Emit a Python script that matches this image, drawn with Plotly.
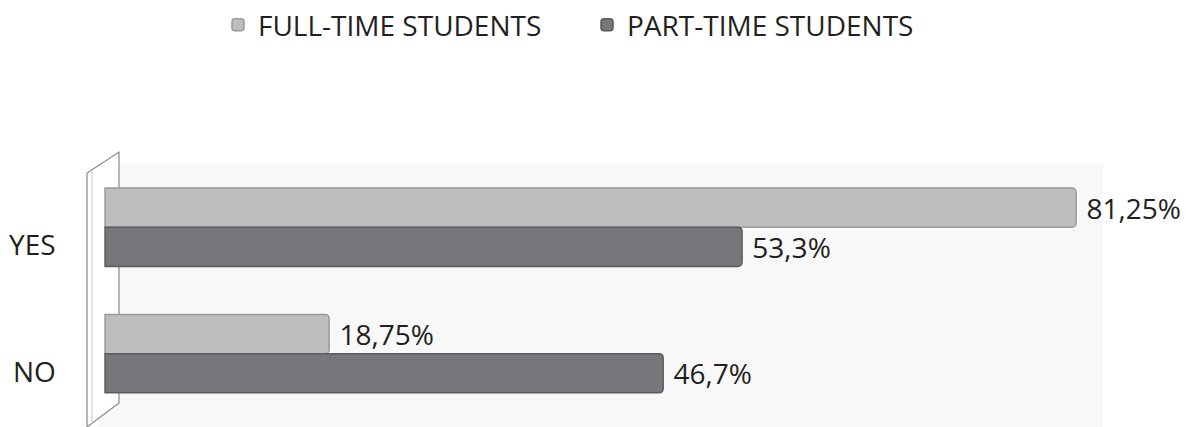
import plotly.graph_objects as go

# Survey answers and shares (%) per student group
answers = ["YES", "NO"]
full_time = [81.25, 18.75]
part_time = [53.3, 46.7]
series_names = ["FULL-TIME STUDENTS", "PART-TIME STUDENTS"]


def pct_label(v):
    s = f"{v:g}".replace(".", ",")
    return "\u00a0" + s + "%"


W, H = 1198, 427
L, R, T, B = 98, 95, 164, 0
PW, PH = W - L - R, H - T - B


def px_x(px):
    return (px - L) / PW


def px_y(py):
    return (H - B - py) / PH


FONT = "Open Sans"
SIZE = 28
TXT = "#231f20"

fig = go.Figure()
for name, vals, color, edge in [
    (series_names[0], full_time, "#bebebe", "#9a9a9a"),
    (series_names[1], part_time, "#77777b", "#5c5c60"),
]:
    fig.add_trace(go.Bar(
        name=name,
        y=answers,
        x=vals,
        orientation="h",
        marker=dict(color=color, line=dict(color=edge, width=1.5)),
        text=[pct_label(v) for v in vals],
        textposition="outside",
        textfont=dict(family=FONT, size=SIZE, color=TXT),
        cliponaxis=False,
    ))

# side wall of the 3D chart frame
wall = [(87, 173), (119, 152), (119, 403), (87, 427)]
path = "M " + " L ".join(f"{px_x(a):.5f},{px_y(b):.5f}" for a, b in wall) + " Z"
fig.add_shape(type="path", xref="paper", yref="paper", path=path,
              fillcolor="white", line=dict(color="#8a8a8a", width=1.2), layer="below")
fig.add_shape(type="line", xref="paper", yref="paper",
              x0=px_x(92), y0=px_y(170), x1=px_x(92), y1=px_y(424),
              line=dict(color="#c8c8c8", width=1), layer="below")

# category labels beside the wall
for a in answers:
    fig.add_annotation(x=px_x(58), xref="paper", y=a, yref="y",
                       text=a, showarrow=False, xanchor="right", yanchor="middle",
                       yshift=-17, font=dict(family=FONT, size=SIZE, color=TXT))

fig.update_layout(
    width=W, height=H,
    margin=dict(l=L, r=R, t=T, b=B),
    paper_bgcolor="white",
    plot_bgcolor="#f8f8f8",
    barmode="group",
    bargap=0.38,
    bargroupgap=0,
    barcornerradius=4,
    showlegend=True,
    legend=dict(orientation="h", x=0.5 - 12 / W, xref="container", xanchor="center",
                y=1, yref="container", yanchor="top",
                font=dict(family=FONT, size=SIZE, color=TXT),
                entrywidth=324, itemwidth=30, traceorder="normal"),
    xaxis=dict(range=[-0.59, 83.5], showgrid=False, zeroline=False,
               showticklabels=False, showline=False, ticks=""),
    yaxis=dict(categoryorder="array", categoryarray=answers,
               range=[1.58, -0.5], showgrid=False, zeroline=False,
               showticklabels=False, showline=False, ticks=""),
)

fig.write_html("out.html")
